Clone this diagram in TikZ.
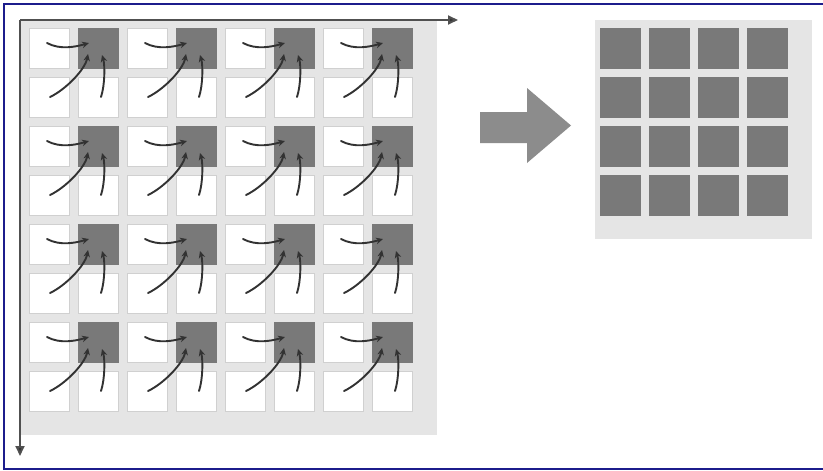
\documentclass[tikz,border=0pt]{standalone}
\usetikzlibrary{arrows.meta}
\definecolor{frameblue}{RGB}{28,28,140}
\definecolor{panelgray}{RGB}{229,229,229}
\definecolor{cellline}{RGB}{208,208,208}
\definecolor{cellfill}{RGB}{121,121,121}
\definecolor{axisgray}{RGB}{80,80,80}
\definecolor{flowgray}{RGB}{50,50,50}
\definecolor{bigarrow}{RGB}{140,140,140}
\tikzset{
  panel/.style={fill=panelgray, draw=none},
  lightcell/.style={draw=cellline, line width=1.8pt, fill=white,
    minimum width=40pt, minimum height=40pt, inner sep=0pt, outer sep=0pt},
  darkcell/.style={draw=cellfill, line width=1pt, fill=cellfill,
    minimum width=40pt, minimum height=40pt, inner sep=0pt, outer sep=0pt},
  outcell/.style={fill=cellfill, draw=none,
    minimum width=41pt, minimum height=41pt, inner sep=0pt, outer sep=0pt},
  axis/.style={draw=axisgray, line width=2pt,
    -{Triangle[length=10pt,width=9pt,fill=flowgray]}},
  flow/.style={draw=flowgray, line width=1.9pt, line cap=round,
    -{Stealth[length=7pt,width=6.5pt]}},
  frame/.style={draw=frameblue, line width=2pt}
}
\begin{document}
\begin{tikzpicture}[x=1pt,y=-1pt]
  % canvas
  \fill[white] (0,0) rectangle (823,471);
  \useasboundingbox (0,0) rectangle (823,471);

  % input feature map
  \fill[panel] (20,19) rectangle (437,435);
  \foreach \i in {0,...,7}{
    \foreach \j in {0,...,7}{
      \pgfmathtruncatemacro{\odd}{(mod(\i,2)==1) && (mod(\j,2)==0)}
      \ifnum\odd=1
        \node[darkcell] (c-\i-\j) at ({49.5+49*\i},{48.5+49*\j}) {};
      \else
        \node[lightcell] (c-\i-\j) at ({49.5+49*\i},{48.5+49*\j}) {};
      \fi
    }
  }

  % axes
  \coordinate (origin) at (20,20);
  \coordinate (xend) at (458,20);
  \coordinate (yend) at (20,456);
  \draw[axis] (origin) -- (xend);
  \draw[axis] (origin) -- (yend);

  % pooling: each 2x2 window gathers into its top-right cell
  \foreach \a in {0,...,3}{
    \foreach \b in {0,...,3}{
      \pgfmathtruncatemacro{\li}{2*\a}
      \pgfmathtruncatemacro{\ri}{2*\a+1}
      \pgfmathtruncatemacro{\tj}{2*\b}
      \pgfmathtruncatemacro{\bj}{2*\b+1}
      \draw[flow] ([shift={(-2.5,-5.5)}]c-\li-\tj.center)
        .. controls +(13,7) and +(-14,4) .. ([shift={(-9.5,-5.5)}]c-\ri-\tj.center);
      \draw[flow] ([shift={(0.5,-0.5)}]c-\li-\bj.center)
        .. controls +(15,-7) and +(-3,16) .. ([shift={(-10.5,5.5)}]c-\ri-\tj.center);
      \draw[flow] ([shift={(2.5,-0.5)}]c-\ri-\bj.center)
        .. controls +(4,-12) and +(3,10) .. ([shift={(3.5,6.5)}]c-\ri-\tj.center);
    }
  }

  % transition arrow
  \fill[bigarrow] (480,112) -- (527,112) -- (527,88) -- (571,125.5)
    -- (527,163) -- (527,143) -- (480,143) -- cycle;

  % pooled output
  \fill[panel] (595,20) rectangle (812,239);
  \foreach \i in {0,...,3}{
    \foreach \j in {0,...,3}{
      \node[outcell] (o-\i-\j) at ({620.5+49*\i},{48.5+49*\j}) {};
    }
  }

  % frame
  \draw[frame] (823,4) -- (4,4) -- (4,469) -- (823,469);
\end{tikzpicture}
\end{document}
